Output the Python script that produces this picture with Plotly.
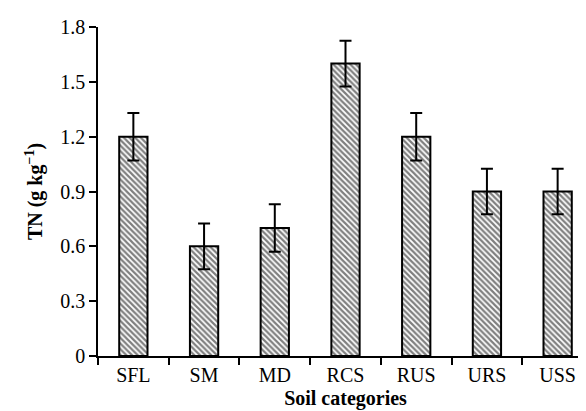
import plotly.graph_objects as go

# Soil total nitrogen by category
categories = ["SFL", "SM", "MD", "RCS", "RUS", "URS", "USS"]
tn_values = [1.2, 0.6, 0.7, 1.6, 1.2, 0.9, 0.9]
tn_errors = [0.13, 0.125, 0.13, 0.125, 0.13, 0.125, 0.125]

y_ticks = [0, 0.3, 0.6, 0.9, 1.2, 1.5, 1.8]
y_tick_labels = ["0", "0.3", "0.6", "0.9", "1.2", "1.5", "1.8"]

serif = "Liberation Serif"

fig = go.Figure(go.Bar(
    x=categories,
    y=tn_values,
    width=0.4,
    marker=dict(
        color="white",
        line=dict(color="black", width=2),
        pattern=dict(shape="\\", fgcolor="black", bgcolor="white",
                     size=4, solidity=0.55, fillmode="overlay"),
    ),
    error_y=dict(type="data", array=tn_errors, visible=True,
                 color="black", thickness=2, width=6),
    showlegend=False,
))

fig.update_layout(
    width=586,
    height=411,
    margin=dict(l=90, r=1, t=19, b=63),
    paper_bgcolor="white",
    plot_bgcolor="white",
    font=dict(family=serif, size=20, color="black"),
    xaxis=dict(
        showline=True, linecolor="black", linewidth=1.5,
        ticks="outside", tickson="boundaries", ticklen=7,
        tickcolor="black", tickwidth=1.5,
        tickfont=dict(family=serif, size=20),
        title=dict(text="<b>Soil categories</b>",
                   font=dict(family=serif, size=20), standoff=6),
        showgrid=False,
    ),
    yaxis=dict(
        range=[0, 1.8],
        tickvals=y_ticks,
        ticktext=y_tick_labels,
        showline=True, linecolor="black", linewidth=1.5,
        ticks="outside", ticklen=7, tickcolor="black", tickwidth=1.5,
        tickfont=dict(family=serif, size=20),
        title=dict(text="<b>TN (g kg<sup>−1</sup>)</b>",
                   font=dict(family=serif, size=20), standoff=12),
        showgrid=False, zeroline=False,
    ),
)

fig.write_html("out.html")
